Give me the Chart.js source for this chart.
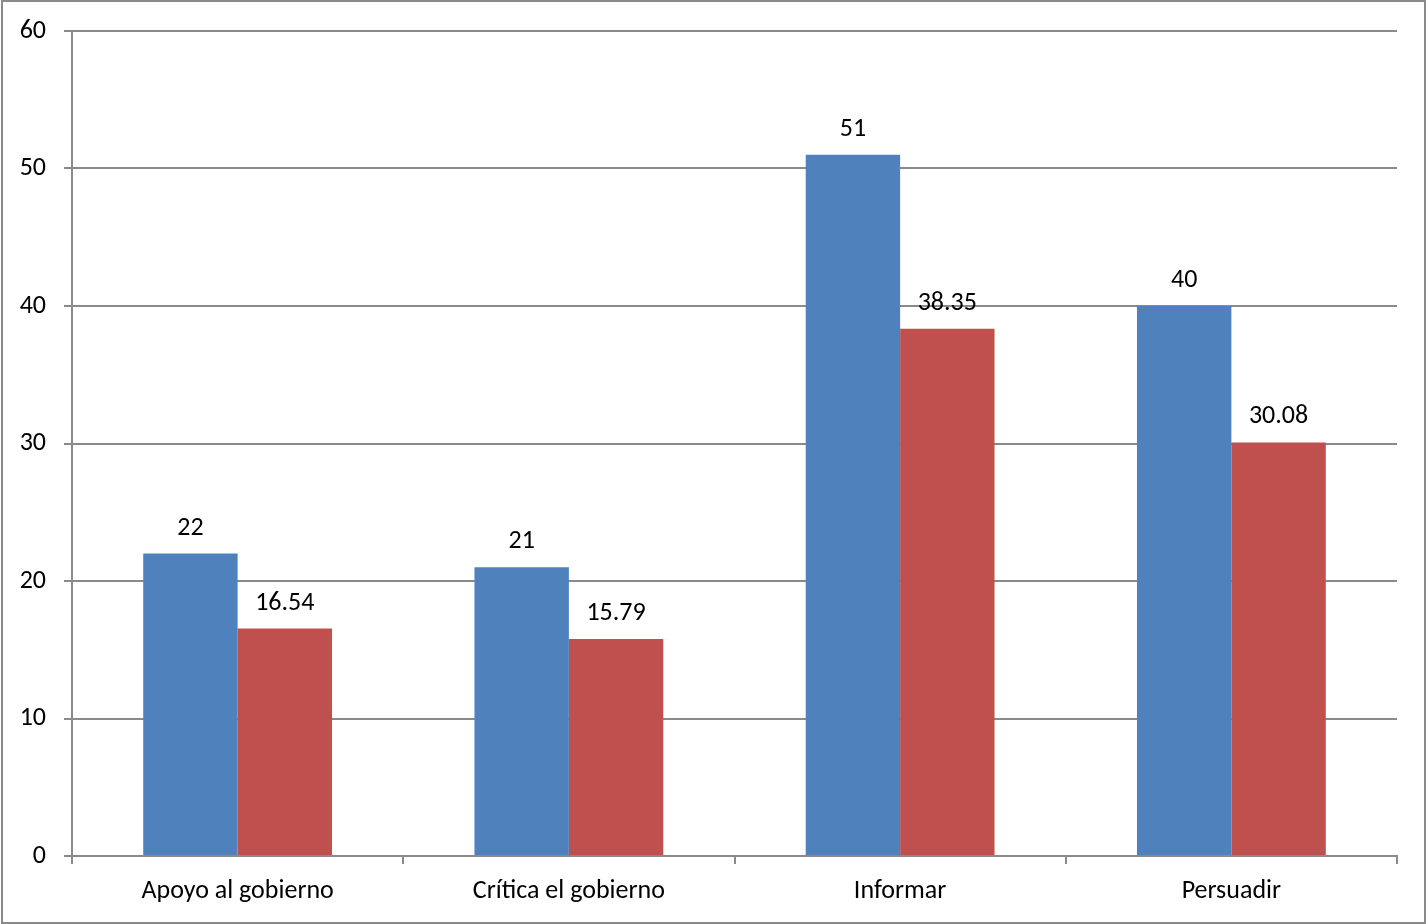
<!DOCTYPE html>
<html>
<head>
<meta charset="utf-8">
<script src="https://cdn.jsdelivr.net/npm/chart.js@4/dist/chart.umd.min.js"></script>
<style>
  html, body { margin: 0; padding: 0; background: #fff; }
  #wrap { width: 1426px; height: 924px; position: relative; }
</style>
</head>
<body>
<div id="wrap"><canvas id="myChart" width="1426" height="924"></canvas></div>
<script>
const categories = ["Apoyo al gobierno", "Crítica el gobierno", "Informar", "Persuadir"];
const serieA = [22, 21, 51, 40];
const serieB = [16.54, 15.79, 38.35, 30.08];
const yTicks = [0, 10, 20, 30, 40, 50, 60];

const fontFam = "Carlito, Lato, 'Liberation Sans', sans-serif";
const gridGray = "#8a8a8a";

// draw the numbers above each bar
const valueLabels = {
  id: "valueLabels",
  afterDatasetsDraw(chart) {
    const ctx = chart.ctx;
    ctx.save();
    ctx.font = "26px " + fontFam;
    ctx.fillStyle = "#000";
    ctx.textAlign = "center";
    ctx.textBaseline = "alphabetic";
    chart.data.datasets.forEach(function (ds, i) {
      chart.getDatasetMeta(i).data.forEach(function (bar, j) {
        ctx.fillText(String(ds.data[j]), bar.x, bar.y - 19);
      });
    });
    ctx.restore();
  }
};

// outer frame like the original picture
const frame = {
  id: "frame",
  afterDraw(chart) {
    const ctx = chart.ctx;
    ctx.save();
    ctx.strokeStyle = "#8a8a8a";
    ctx.lineWidth = 2;
    ctx.strokeRect(2, 1, chart.width - 3, chart.height - 2);
    ctx.restore();
  }
};

new Chart("myChart", {
  type: "bar",
  data: {
    labels: categories,
    datasets: [{
      data: serieA,
      backgroundColor: "#4F81BD",
      categoryPercentage: 0.57,
      barPercentage: 1
    }, {
      data: serieB,
      backgroundColor: "#C0504D",
      categoryPercentage: 0.57,
      barPercentage: 1
    }]
  },
  options: {
    responsive: false,
    animation: false,
    layout: { padding: { left: 0, right: 29, top: 31, bottom: 0 } },
    plugins: {
      legend: { display: false },
      tooltip: { enabled: false }
    },
    scales: {
      x: {
        offset: true,
        grid: {
          offset: true,
          drawOnChartArea: false,
          drawTicks: true,
          tickLength: 8,
          color: gridGray,
          lineWidth: 2
        },
        border: { color: gridGray, width: 2 },
        ticks: {
          color: "#000",
          padding: 12,
          font: { family: fontFam, size: 26 }
        },
        afterFit(scale) { scale.height = 68; }
      },
      y: {
        min: 0,
        max: 60,
        afterBuildTicks(scale) { scale.ticks = yTicks.map(v => ({ value: v })); },
        grid: {
          color: gridGray,
          lineWidth: 2,
          tickLength: 8
        },
        border: { color: gridGray, width: 2 },
        ticks: {
          color: "#000",
          padding: 18,
          font: { family: fontFam, size: 26, lineHeight: 1 }
        },
        afterFit(scale) { scale.width = 72; }
      }
    }
  },
  plugins: [valueLabels, frame]
});
</script>
</body>
</html>
